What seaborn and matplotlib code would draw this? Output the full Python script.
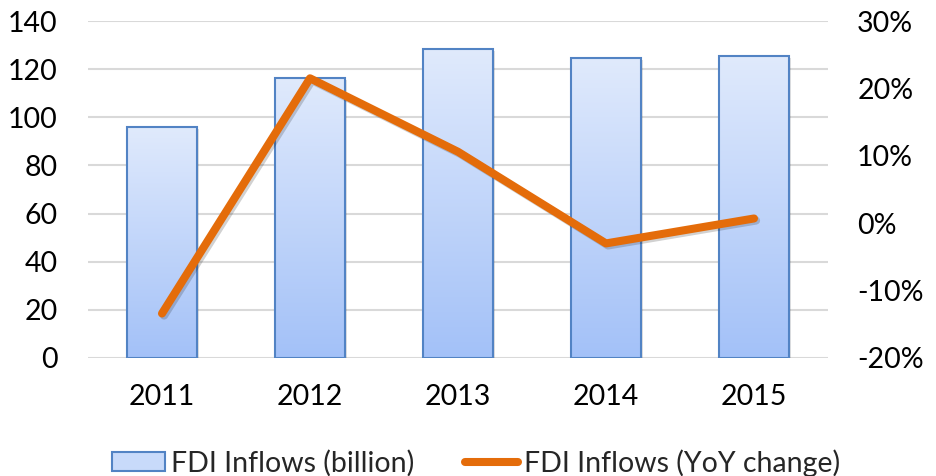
import numpy as np
import pandas as pd
import matplotlib
matplotlib.use("Agg")
import matplotlib.pyplot as plt
import matplotlib.patheffects as pe
from matplotlib.ticker import PercentFormatter
from matplotlib.patches import Patch
from matplotlib.lines import Line2D
import seaborn as sns

# FDI inflows by year
years = ["2011", "2012", "2013", "2014", "2015"]
inflows_billion = [96, 116.5, 128.5, 124.6, 125.6]
yoy_change = [-0.134, 0.215, 0.106, -0.030, 0.007]

bar_label = "FDI Inflows (billion)"
line_label = "FDI Inflows (YoY change)"

sns.set_theme(style="white")
plt.rcParams["font.family"] = ["Lato", "DejaVu Sans"]
plt.rcParams["axes.unicode_minus"] = False

BAR_TOP = "#e0eafc"
BAR_BOTTOM = "#a3c1f8"
BAR_EDGE = "#5283c4"
LINE_COLOR = "#e46c0a"
GRID = "#d9d9d9"
FS = 20.5

df = pd.DataFrame({"year": years, "inflows": inflows_billion, "yoy": yoy_change})

fig = plt.figure(figsize=(9.37, 4.76), dpi=100)
ax = fig.add_axes([88 / 937, 1 - 358 / 476, (828 - 88) / 937, (358 - 21) / 476])

sns.barplot(data=df, x="year", y="inflows", ax=ax, width=0.47,
            color=BAR_BOTTOM, edgecolor=BAR_EDGE, linewidth=1.5,
            saturation=1, zorder=3)

# vertical gradient fill inside each bar, with a soft drop shadow behind it
grad = np.linspace(0, 1, 256).reshape(-1, 1)
cmap = matplotlib.colors.LinearSegmentedColormap.from_list("barfill", [BAR_BOTTOM, BAR_TOP])
for bar in list(ax.patches):
    x0, y0 = bar.get_x(), bar.get_y()
    w, h = bar.get_width(), bar.get_height()
    bar.set_facecolor("none")
    shadow = Patch(facecolor="none")
    shadow = matplotlib.patches.Rectangle((x0, y0), w, h, facecolor="#000000",
                                          edgecolor="none", alpha=0.12, zorder=2.2)
    shadow.set_transform(ax.transData + matplotlib.transforms.ScaledTranslation(
        1.5 / 72, -1.5 / 72, fig.dpi_scale_trans))
    ax.add_artist(shadow)
    im = ax.imshow(grad, cmap=cmap, origin="lower", aspect="auto",
                   extent=(x0, x0 + w, y0, y0 + h), zorder=2.5,
                   interpolation="bicubic")
    im.set_clip_path(bar)
ax.set_xlim(-0.5, len(years) - 0.5)
ax.set_ylim(0, 140)
ax.set_yticks(np.arange(0, 141, 20))

ax.grid(axis="y", color=GRID, linewidth=1.5, zorder=0)
ax.set_axisbelow(True)
for s in ax.spines.values():
    s.set_visible(False)
ax.set_xlabel("")
ax.set_ylabel("")
ax.tick_params(axis="both", length=0, labelsize=FS, colors="black")
ax.tick_params(axis="y", pad=22)
ax.tick_params(axis="x", pad=19)

ax2 = ax.twinx()
sns.lineplot(data=df, x="year", y="yoy", ax=ax2, color=LINE_COLOR,
             linewidth=5.8, sort=False, solid_capstyle="round",
             solid_joinstyle="round", zorder=5)
ax2.lines[0].set_path_effects([pe.SimpleLineShadow(offset=(1.5, -1.5), alpha=0.2), pe.Normal()])
ax2.set_ylim(-0.2, 0.3)
ax2.set_yticks(np.arange(-0.2, 0.31, 0.1))
ax2.yaxis.set_major_formatter(PercentFormatter(1.0, decimals=0))
for s in ax2.spines.values():
    s.set_visible(False)
ax2.set_ylabel("")
ax2.grid(False)
ax2.tick_params(axis="y", length=0, labelsize=FS, pad=21, colors="black")
ax.set_xlim(-0.5, len(years) - 0.5)

handles = [
    Patch(facecolor="#c8dafa", edgecolor=BAR_EDGE, linewidth=1.5, label=bar_label),
    Line2D([0], [0], color=LINE_COLOR, linewidth=5.8, label=line_label),
]
fig.legend(handles=handles, loc="center", bbox_to_anchor=(476 / 937, 1 - 463 / 476),
           ncol=2, frameon=False, fontsize=FS, handlelength=1.85, handleheight=0.65,
           handletextpad=0.2, columnspacing=1.8, borderpad=0)

fig.savefig("out.png", dpi=100)
